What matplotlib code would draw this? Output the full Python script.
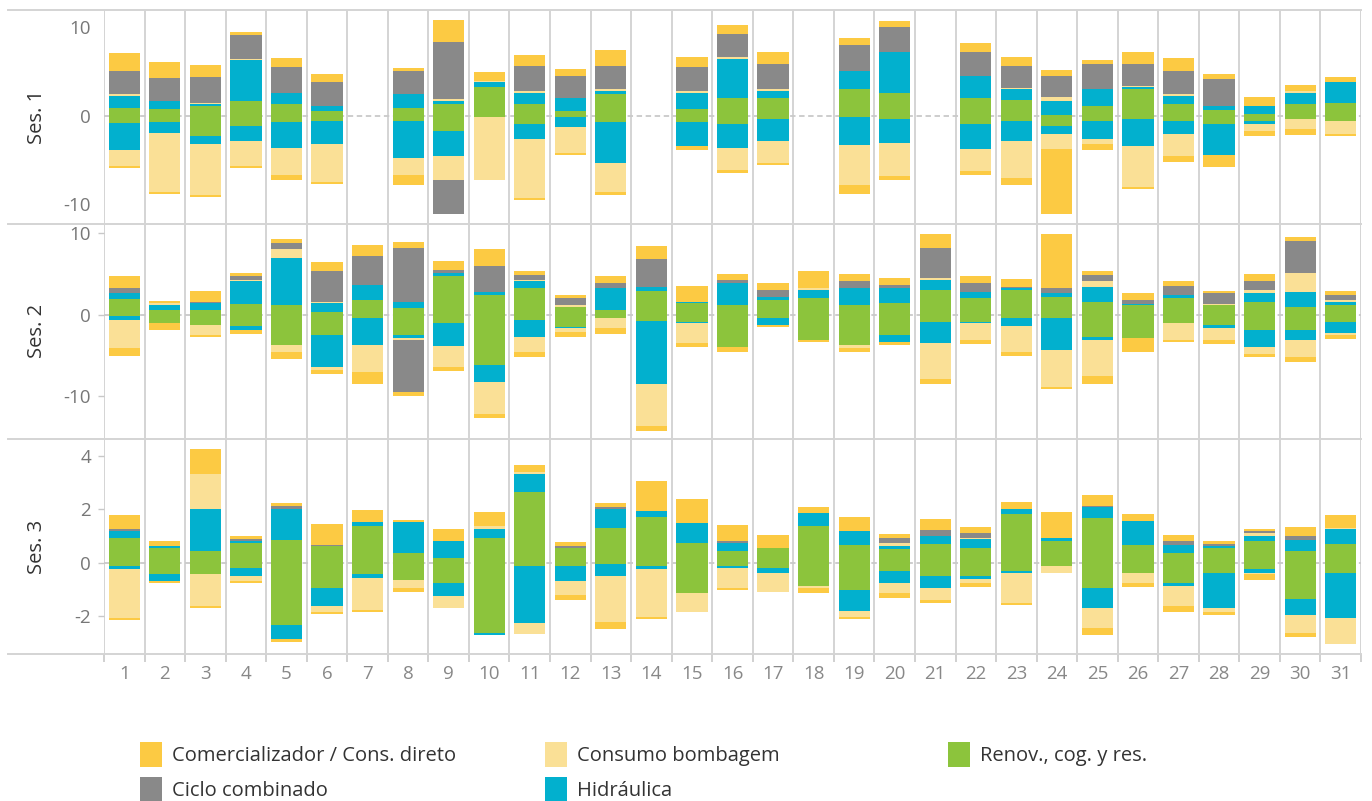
import matplotlib
matplotlib.use("Agg")
import matplotlib.pyplot as plt
from matplotlib.lines import Line2D
from matplotlib.patches import Rectangle
import numpy as np

plt.rcParams['font.family'] = ['Open Sans', 'DejaVu Sans']

days = list(range(1, 32))
sessions = ["Ses. 1", "Ses. 2", "Ses. 3"]
categories = ["Renov., cog. y res.", "Hidráulica", "Consumo bombagem",
              "Ciclo combinado", "Comercializador / Cons. direto"]
colors = ["#8CC43C", "#02B0CE", "#FAE096", "#898989", "#FCCA43"]

# ---------------- Ses. 1 ----------------
s1_ren_pos = [0.86,0.75,1.09,1.65,1.32,0.53,0,0.86,1.32,3.23,1.32,0.53,2.44,0,0.75,1.99,1.99,0,3.0,2.56,0,1.99,1.77,0.08,1.09,3.0,1.32,0.64,0.19,1.32,1.43]
s1_hid_pos = [1.36,0.9,0.23,4.63,1.24,0.56,0,1.58,0.33,0.57,1.24,1.46,0.34,0,1.81,4.4,0.79,0,2.04,4.62,0,2.48,1.23,1.57,1.91,0.23,0.9,0.45,0.9,1.24,2.37]
s1_bom_pos = [0.22,0,0.11,0.11,0,0,0,0,0.23,0.11,0.22,0,0.22,0,0.22,0.23,0.22,0,0,0,0,0,0.12,0.45,0,0.12,0.22,0,0,0.22,0]
s1_ccg_pos = [2.6,2.6,2.93,2.71,2.93,2.71,0,2.6,6.43,0,2.82,2.48,2.6,0,2.71,2.59,2.83,0,2.93,2.82,0,2.71,2.48,2.37,2.83,2.48,2.6,3.05,0,0,0]
s1_com_pos = [2.03,1.8,1.35,0.34,1.01,0.9,0,0.34,2.48,1.01,1.24,0.79,1.8,0,1.13,1.02,1.35,0,0.79,0.68,0,1.02,1.02,0.68,0.45,1.35,1.46,0.56,1.01,0.68,0.56]
s1_ren_neg = [-0.83,-0.71,-2.29,-1.17,-0.71,-0.6,0,-0.6,-1.73,-0.1,-0.94,-0.15,-0.71,0,-0.71,-0.94,-0.38,0,-0.15,-0.38,0,-0.94,-0.6,-1.17,-0.6,-0.38,-0.6,-0.94,-0.6,-0.38,-0.6]
s1_hid_neg = [-3.04,-1.24,-0.9,-1.69,-2.94,-2.6,0,-4.17,-2.82,0,-1.69,-1.13,-4.63,0,-2.71,-2.71,-2.48,0,-3.16,-2.7,0,-2.82,-2.26,-0.9,-2.03,-3.04,-1.47,-3.5,-0.34,0,0]
s1_bom_neg = [-1.77,-6.65,-5.75,-2.82,-3.04,-4.28,0,-1.92,-2.71,-7.16,-6.66,-2.93,-3.27,0,0,-2.48,-2.48,0,-4.51,-3.72,0,-2.48,-4.17,-1.69,-0.57,-4.63,-2.48,0,-0.79,-1.12,-1.47]
s1_ccg_neg = [0,0,0,0,0,0,0,0,-3.83,0,0,0,0,0,0,0,0,0,0,0,0,0,0,0,0,0,0,0,0,0,0]
s1_com_neg = [-0.22,-0.23,-0.22,-0.18,-0.57,-0.22,0,-1.13,0,0,-0.22,-0.23,-0.34,0,-0.45,-0.34,-0.22,0,-1.01,-0.46,0,-0.45,-0.79,-7.33,-0.67,-0.22,-0.68,-1.35,-0.56,-0.68,-0.22]

# ---------------- Ses. 2 ----------------
s2_ren_pos = [1.92,0.57,0.57,1.31,1.19,0.33,1.8,0.82,4.74,2.41,3.27,0.94,0.57,2.9,1.43,1.19,1.8,2.04,1.19,1.43,3.03,2.04,3.03,2.17,1.55,1.19,2.04,1.19,1.55,0.94,1.19]
s2_hid_pos = [0.74,0.62,0.86,2.82,5.76,1.1,1.84,0.73,0.37,0.37,0.86,0,2.7,0.49,0.12,2.7,0.37,0.99,2.08,1.84,1.22,0.74,0.24,0.49,1.84,0.12,0.37,0,1.11,1.84,0.36]
s2_bom_pos = [0,0.24,0,0.12,1.11,0.12,0,0,0,0,0.12,0.25,0,0,0,0,0,0.24,0,0,0.25,0,0,0,0.74,0,0,0.12,0.37,2.33,0.25]
s2_ccg_pos = [0.61,0,0.12,0.49,0.73,3.81,3.56,6.63,0.37,3.19,0.62,0.85,0.62,3.44,0,0.36,0.86,0,0.86,0.37,3.68,1.11,0.12,0.61,0.74,0.49,1.11,1.35,1.1,3.93,0.61]
s2_com_pos = [1.47,0.25,1.35,0.37,0.49,1.1,1.35,0.74,1.1,2.09,0.49,0.37,0.85,1.6,1.97,0.74,0.86,2.09,0.86,0.86,1.72,0.85,0.99,6.63,0.49,0.86,0.61,0.24,0.86,0.49,0.49]
s2_ren_neg = [-0.16,-1.02,-1.27,-1.39,-3.72,-2.49,-0.41,-2.49,-1.02,-6.18,-0.65,-1.51,-0.41,-0.78,-0.9,-3.97,-0.41,-3.11,-3.72,-2.49,-0.9,-0.9,-0.41,-0.41,-2.74,-2.86,-1.02,-1.27,-1.88,-1.88,-0.9]
s2_hid_neg = [-0.49,0,0,-0.49,0,-3.93,-3.31,-0.37,-2.82,-2.08,-2.09,-0.13,0,-7.73,-0.12,0,-0.86,0,0,-0.86,-2.58,-0.12,-0.98,-3.93,-0.37,0,0,-0.37,-2.09,-1.23,-1.35]
s2_bom_neg = [-3.44,0,-1.22,0,-0.86,-0.37,-3.31,-0.25,-2.58,-3.93,-1.84,-0.49,-1.23,-5.15,-2.46,0,0,0,-0.37,0,-4.41,-2.09,-3.19,-4.54,-4.42,0,-2.09,-1.47,-0.86,-2.08,-0.24]
s2_ccg_neg = [0,0,0,0,0,0,0,-6.38,0,0,0,0,0,0,0,0,0,0,0,0,0,0,0,0,0,0,0,0,0,0,0]
s2_com_neg = [-0.98,-0.86,-0.25,-0.49,-0.86,-0.49,-1.48,-0.49,-0.49,-0.49,-0.61,-0.61,-0.73,-0.61,-0.49,-0.61,-0.24,-0.24,-0.49,-0.37,-0.62,-0.49,-0.49,-0.24,-0.98,-1.72,-0.24,-0.49,-0.36,-0.62,-0.5]

# ---------------- Ses. 3 ----------------
s3_ren_pos = [0.93,0.55,0.44,0.74,0.85,0.63,1.38,0.36,0.18,0.93,2.65,0.55,1.3,1.71,0.74,0.44,0.55,1.38,0.66,0.51,0.7,0.55,1.83,0.81,1.68,0.66,0.36,0.55,0.81,0.44,0.7]
s3_hid_pos = [0.26,0.08,1.57,0.07,1.16,0,0.15,1.17,0.63,0.33,0.68,0,0.71,0.23,0.75,0.3,0,0.48,0.53,0.12,0.3,0.34,0.18,0.12,0.41,0.9,0.3,0.08,0.19,0.41,0.56]
s3_bom_pos = [0,0,1.32,0,0.02,0,0,0,0,0.12,0.07,0,0,0,0,0,0,0,0,0.11,0,0.04,0,0,0,0,0,0,0.11,0,0.04]
s3_ccg_pos = [0.07,0,0,0.08,0.11,0.03,0,0,0,0,0,0.08,0.08,0,0,0.07,0,0,0,0.19,0.23,0.18,0,0,0.04,0,0.15,0.07,0.08,0.15,0]
s3_com_pos = [0.53,0.18,0.93,0.11,0.09,0.79,0.45,0.07,0.45,0.52,0.26,0.15,0.15,1.12,0.9,0.6,0.49,0.23,0.52,0.15,0.41,0.23,0.27,0.97,0.41,0.27,0.23,0.11,0.07,0.34,0.49]
s3_ren_neg = [-0.13,-0.43,-0.43,-0.2,-2.34,-0.95,-0.43,-0.65,-0.76,-2.64,-0.13,-0.13,-0.05,-0.13,-1.14,-0.13,-0.2,-0.88,-1.03,-0.31,-0.5,-0.5,-0.31,-0.13,-0.95,-0.39,-0.76,-0.39,-0.24,-1.36,-0.39]
s3_hid_neg = [-0.11,-0.26,0,-0.3,-0.52,-0.68,-0.15,0,-0.49,-0.07,-2.13,-0.56,-0.45,-0.11,0,-0.07,-0.19,0,-0.78,-0.45,-0.45,-0.11,-0.08,0,-0.75,0,-0.12,-1.31,-0.15,-0.6,-1.69]
s3_bom_neg = [-1.84,0,-1.2,-0.19,0,-0.22,-1.2,-0.3,-0.45,0,-0.42,-0.52,-1.73,-1.8,-0.71,-0.75,-0.71,-0.07,-0.23,-0.38,-0.45,-0.15,-1.12,-0.26,-0.75,-0.37,-0.75,-0.15,-0.04,-0.68,-0.97]
s3_ccg_neg = [0]*31
s3_com_neg = [-0.07,-0.07,-0.07,-0.07,-0.12,-0.08,-0.07,-0.15,0,0,0,-0.19,-0.26,-0.07,0,-0.08,0,-0.19,-0.07,-0.19,-0.11,-0.15,-0.08,0,-0.26,-0.15,-0.22,-0.11,-0.22,-0.15,0]

session_data = [
    ([s1_ren_pos, s1_hid_pos, s1_bom_pos, s1_ccg_pos, s1_com_pos],
     [s1_ren_neg, s1_hid_neg, s1_bom_neg, s1_ccg_neg, s1_com_neg]),
    ([s2_ren_pos, s2_hid_pos, s2_bom_pos, s2_ccg_pos, s2_com_pos],
     [s2_ren_neg, s2_hid_neg, s2_bom_neg, s2_ccg_neg, s2_com_neg]),
    ([s3_ren_pos, s3_hid_pos, s3_bom_pos, s3_ccg_pos, s3_com_pos],
     [s3_ren_neg, s3_hid_neg, s3_bom_neg, s3_ccg_neg, s3_com_neg]),
]
yticks = [[10, 0, -10], [10, 0, -10], [4, 2, 0, -2]]
ylims = [(-12.14, 11.9), (-15.25, 11.19), (-3.42, 4.64)]

W, H = 1372, 801
fig = plt.figure(figsize=(W / 100, H / 100), dpi=100)
x0, x1 = 104, 1361
rows = [(10, 223.5), (223.5, 439), (439, 654)]
grid_c = "#d4d4d4"

x = np.array(days)
for i, (top, bot) in enumerate(rows):
    ax = fig.add_axes([x0 / W, 1 - bot / H, (x1 - x0) / W, (bot - top) / H])
    pos_list, neg_list = session_data[i]
    bpos = np.zeros(len(days))
    bneg = np.zeros(len(days))
    for vals, col in zip(pos_list, colors):
        v = np.array(vals, dtype=float)
        ax.bar(x, v, bottom=bpos, width=0.77, color=col, linewidth=0, zorder=3)
        bpos += v
    for vals, col in zip(neg_list, colors):
        v = np.array(vals, dtype=float)
        ax.bar(x, v, bottom=bneg, width=0.77, color=col, linewidth=0, zorder=3)
        bneg += v
    ax.set_xlim(0.5, 31.5)
    ax.set_ylim(*ylims[i])
    for b in np.arange(0.5, 32.0, 1.0):
        ax.axvline(b, color=grid_c, lw=1.4, zorder=1)
    ax.axhline(0, color="#c9c9c9", lw=1.3, ls=(0, (3, 2)), zorder=2)
    for s in ax.spines.values():
        s.set_visible(False)
    ax.set_yticks(yticks[i])
    ax.set_yticklabels([str(t) for t in yticks[i]])
    if i == 0:
        ax.tick_params(axis="y", length=0, pad=9.4, labelsize=13.5, labelcolor="#777777")
    else:
        ax.tick_params(axis="y", length=4.3, width=1, color="#c8c8c8", pad=5,
                       labelsize=13.5, labelcolor="#777777")
    if i == 2:
        ax.set_xticks(days)
        ax.set_xticklabels([str(d) for d in days])
        ax.set_xticks(np.arange(0.5, 32.0, 1.0), minor=True)
        ax.tick_params(axis="x", which="major", length=0, pad=8, labelsize=13.5,
                       labelcolor="#888888")
        ax.tick_params(axis="x", which="minor", length=6, width=1.2, color="#c8c8c8")
    else:
        ax.set_xticks([])
    ax.set_facecolor("none")
    fig.text(37 / W, 1 - (top + bot) / 2 / H, sessions[i], rotation=90,
             ha="center", va="center", fontsize=14.5, color="#333333")

for yy in [10, 223.5, 439, 654]:
    fig.add_artist(Line2D([8 / W, x1 / W], [1 - yy / H, 1 - yy / H],
                          color=grid_c, lw=1.4, transform=fig.transFigure))

# legend
leg = [("Comercializador / Cons. direto", colors[4], 140, 742),
       ("Consumo bombagem", colors[2], 545, 742),
       ("Renov., cog. y res.", colors[0], 948, 742),
       ("Ciclo combinado", colors[3], 140, 777),
       ("Hidráulica", colors[1], 545, 777)]
for lab, col, lx, ly in leg:
    fig.add_artist(Rectangle((lx / W, 1 - (ly + 25) / H), 22 / W, 25 / H,
                             facecolor=col, edgecolor="none", transform=fig.transFigure))
    fig.text((lx + 32) / W, 1 - (ly + 14) / H, lab, ha="left", va="center",
             fontsize=14.5, color="#333333")

fig.savefig("out.png", dpi=100)
